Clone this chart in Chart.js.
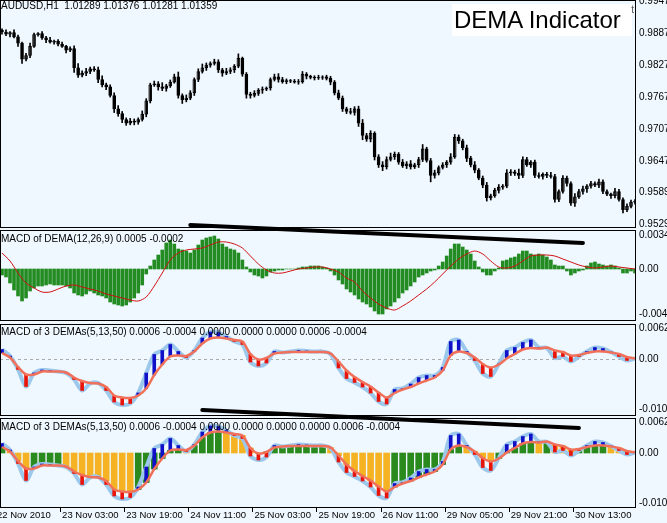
<!DOCTYPE html>
<html><head><meta charset="utf-8">
<script src="https://cdn.jsdelivr.net/npm/chart.js@4/dist/chart.umd.min.js"></script>
<style>
html,body{margin:0;padding:0;background:#F0F8FF;width:667px;height:523px;overflow:hidden;font-family:"Liberation Sans",sans-serif}
canvas{position:absolute;left:0}
.lbl{position:absolute;font-size:10px;color:#000;white-space:nowrap;z-index:5}
#title{position:absolute;left:452px;top:4px;width:178px;height:32px;background:#fff;font-size:24px;line-height:32px;padding-left:2px;z-index:6}
#title sup{font-size:10px;position:absolute;top:-10px;right:-2px;color:#555}
</style></head><body>
<canvas id="c1" width="667" height="229" style="top:0"></canvas>
<canvas id="c2" width="667" height="107" style="top:215px"></canvas>
<canvas id="c3" width="667" height="94" style="top:323px"></canvas>
<canvas id="c4" width="667" height="125" style="top:398px"></canvas>
<div class="lbl" style="left:1px;top:0px">AUDUSD,H1&nbsp; 1.01289 1.01376 1.01281 1.01359</div>
<div class="lbl" style="left:1px;top:233px">MACD of DEMA(12,26,9) 0.0005 -0.0002</div>
<div class="lbl" style="left:1px;top:326px">MACD of 3 DEMAs(5,13,50) 0.0006 -0.0004 0.0000 0.0000 0.0000 0.0006 -0.0004</div>
<div class="lbl" style="left:1px;top:421px">MACD of 3 DEMAs(5,13,50) 0.0006 -0.0004 0.0000 0.0000 0.0000 0.0000 0.0006 -0.0004</div>
<div id="title">DEMA Indicator<sup>t</sup></div>
<script>
const PIP = 0.0001;
const firstOpen = 0.9892;
const closes = [
0.9889,0.9885,0.9888,0.9880,0.9868,0.9838,0.9845,0.9862,0.9884,0.9886,
0.9878,0.9874,0.9870,0.9872,0.9866,0.9862,0.9855,0.9858,0.9822,0.9808,
0.9812,0.9815,0.9820,0.9818,0.9800,0.9790,0.9786,0.9770,0.9745,0.9736,
0.9725,0.9718,0.9722,0.9720,0.9725,0.9735,0.9760,0.9790,0.9792,0.9786,
0.9783,0.9788,0.9795,0.9805,0.9770,0.9762,0.9765,0.9775,0.9800,0.9815,
0.9822,0.9827,0.9830,0.9833,0.9818,0.9812,0.9815,0.9818,0.9825,0.9840,
0.9810,0.9772,0.9770,0.9774,0.9780,0.9782,0.9784,0.9800,0.9805,0.9800,
0.9796,0.9798,0.9797,0.9795,0.9796,0.9810,0.9806,0.9804,0.9803,0.9804,
0.9805,0.9802,0.9795,0.9775,0.9765,0.9745,0.9740,0.9738,0.9745,0.9718,
0.9695,0.9688,0.9699,0.9655,0.9640,0.9636,0.9650,0.9655,0.9660,0.9645,
0.9638,0.9642,0.9636,0.9640,0.9650,0.9670,0.9648,0.9620,0.9625,0.9635,
0.9640,0.9645,0.9655,0.9692,0.9685,0.9672,0.9652,0.9640,0.9630,0.9615,
0.9602,0.9578,0.9582,0.9592,0.9598,0.9600,0.9625,0.9627,0.9624,0.9620,
0.9650,0.9640,0.9645,0.9620,0.9618,0.9622,0.9620,0.9618,0.9575,0.9590,
0.9615,0.9605,0.9568,0.9580,0.9590,0.9595,0.9600,0.9605,0.9602,0.9608,
0.9590,0.9585,0.9582,0.9590,0.9575,0.9556,0.9562,0.9570,0.9572];
const wickHi = [
3,4,2,5,3,2,4,6,3,2, 4,3,5,2,3,4,2,3,5,8, 4,6,3,4,5,7,3,4,5,6, 4,3,5,4,3,6,4,3,5,4,
8,3,4,5,9,3,6,4,3,5, 7,4,3,5,4,3,6,4,3,8, 2,3,4,5,3,4,2,3,5,6, 4,3,2,3,4,5,3,2,3,4,
2,3,4,3,5,4,3,6,4,5, 7,4,5,3,4,6,5,7,4,3, 5,4,6,3,4,8,3,4,5,3, 4,3,6,5,4,3,5,4,6,3,
4,5,3,4,5,3,6,4,3,8, 5,4,3,4,5,3,4,6,4,3, 5,4,3,6,4,5,3,4,3,5, 4,3,2,6,4,3,5,4,3];
const wickLo = [
4,3,5,2,6,8,3,4,2,3, 3,5,2,4,3,2,5,3,9,4, 3,5,4,3,6,4,5,3,7,5, 6,4,3,5,4,3,5,4,3,6,
4,5,3,2,5,7,4,3,5,4, 3,5,4,3,5,6,3,4,5,3, 4,7,5,3,4,6,3,4,3,5, 3,4,3,2,4,3,5,3,4,3,
4,3,5,4,3,5,4,3,5,6, 8,4,5,6,5,7,4,3,5,4, 3,5,4,3,5,4,3,12,5,4, 3,5,4,3,5,4,6,4,5,3,
5,6,4,3,5,4,3,5,4,6, 4,3,5,4,3,5,4,3,5,4, 3,5,4,6,3,5,7,4,3,5, 4,3,5,4,3,6,4,3,4];
const priceTicks = [0.9947,0.9887,0.9827,0.9767,0.9707,0.9647,0.9589,0.9529];
const priceTickLabels = ["0.9947","0.9887","0.9827","0.9767","0.9707","0.9647","0.9589","0.9529"];

const macdHist = [
-6,-8,-14,-21,-27,-32,-29,-22,-19,-17, -17,-16,-15,-16,-16,-16,-17,-19,-24,-26,
-27,-25,-22,-24,-26,-27,-29,-33,-35,-36, -37,-36,-33,-29,-24,-16,-5,3,9,14,
19,26,29,25,20,19,18,16,19,24, 29,31,32,33,30,25,22,20,19,16,
9,2,-3,-6,-7,-9,-7,-3,-2,-1, -1,0,0,0,1,2,2,3,3,3,
2,1,-2,-6,-11,-15,-20,-23,-26,-30, -33,-35,-38,-42,-45,-45,-40,-37,-33,-29,
-24,-21,-17,-13,-8,-6,-4,-2,-1,3, 7,13,20,25,25,22,19,15,8,2,
-3,-6,-6,-2,1,8,9,11,12,15, 18,18,15,14,15,14,12,9,4,3,
3,-2,-6,-4,-2,-1,3,6,7,5, 4,3,4,3,1,-4,-4,-2,-4];
const macdSignal = [
16,8,-4,-14,-19,-23,-23,-20,-17,-16, -18,-20,-22,-25,-27,-29,-31,-32,-28,-17,
-4,9,16,19,20,21,24,27,27,25, 21,13,5,-1,-4,-4,-2,0,1,2,
2,0,-3,-9,-13,-22,-29,-35,-39,-41, -37,-32,-26,-20,-13,-5,3,10,15,18,
15,8,2,1,3,8,13,14,14,13, 10,7,4,2,1,2,3,2,1,0];
const p2Ticks = [0.0034,0,-0.0045];
const p2TickLabels = ["0.0034","0.00","-0.0045"];

const dema3Macd = [
19,6,-21,-55,-28,-22,-23,-25,-28,-41, -63,-49,-48,-63,-86,-92,-89,-68,-28,9,
17,29,15,3,17,42,54,53,45,35, 29,-6,-14,-8,15,13,15,17,16,15,
15,10,-18,-39,-47,-56,-68,-85,-90,-61, -59,-50,-37,-33,-33,-17,35,38,15,-3,
-29,-35,-10,17,23,33,38,23,22,2, 5,-5,5,15,23,21,14,5,-3,1];
const dema3Signal = [
12,3,-16,-31,-31,-25,-25,-25,-27,-37, -44,-48,-49,-56,-73,-77,-78,-73,-59,-32,
-11,5,7,6,15,31,41,43,41,38, 35,10,-1,2,11,13,14,14,14,14,
14,11,-5,-23,-36,-46,-55,-67,-77,-68, -61,-56,-49,-43,-37,-23,7,15,12,3,
-10,-17,-11,1,10,19,22,21,23,17, 14,7,8,12,15,15,13,10,4,1];
const p34Ticks = [0.0062,0,-0.0101];
const p34TickLabels = ["0.0062","0.00","-0.0101"];

const trend1Bars = [47,145], trend1Vals = [0.0044,0.0026];
const trend2Bars = [50,144], trend2Vals = [0.0086,0.0050];

const dateBars = [-1.75,14.5,30.5,46.5,62.5,78.5,94.5,110.5,126.5,142.5];
const dateLabels = ["22 Nov 2010","23 Nov 03:00","23 Nov 19:00","24 Nov 11:00","25 Nov 03:00","25 Nov 19:00","26 Nov 11:00","29 Nov 05:00","29 Nov 21:00","30 Nov 13:00"];

const X_MIN=-0.5, X_MAX=158.25;
const border = {id:'border', afterDatasetsDraw(c){const a=c.chartArea,x=c.ctx;x.save();x.strokeStyle='#000';x.lineWidth=1;x.strokeRect(a.left+0.5,a.top+0.5,a.right-a.left-1,a.bottom-a.top-1);x.restore();}};
function trendPlugin(bars,vals){return {id:'trend',afterDatasetsDraw(c){const xs=c.scales.x,ys=c.scales.y,x=c.ctx;x.save();x.strokeStyle='#000';x.lineWidth=4;x.lineCap='round';x.beginPath();x.moveTo(xs.getPixelForValue(bars[0]),ys.getPixelForValue(vals[0]));x.lineTo(xs.getPixelForValue(bars[1]),ys.getPixelForValue(vals[1]));x.stroke();x.restore();}};}
const zeroDash = {id:'zd',beforeDatasetsDraw(c){const a=c.chartArea,y=Math.round(c.scales.y.getPixelForValue(0))+0.5,x=c.ctx;x.save();x.strokeStyle='#aaa';x.setLineDash([3,3]);x.beginPath();x.moveTo(a.left,y);x.lineTo(a.right,y);x.stroke();x.restore();}};
const dates = {id:'dates',afterDraw(c){const xs=c.scales.x,x=c.ctx,b=c.chartArea.bottom;x.save();x.fillStyle='#000';x.font='9.5px "Liberation Sans"';x.textBaseline='top';x.strokeStyle='#000';
  dateBars.forEach((v,i)=>{const px=xs.getPixelForValue(v);x.fillText(dateLabels[i],px+2,b+3);x.beginPath();x.moveTo(Math.round(px)+0.5,b);x.lineTo(Math.round(px)+0.5,b+4);x.stroke();});x.restore();}};

function opts(yMin,yMax,ticks,labels,pt,pb){return {responsive:false,animation:false,devicePixelRatio:1,
 layout:{autoPadding:false,padding:{top:pt,bottom:pb,left:0,right:0}},
 plugins:{legend:{display:false},tooltip:{enabled:false}},
 scales:{x:{type:'linear',min:X_MIN,max:X_MAX,display:false,offset:false},
  y:{position:'right',min:yMin,max:yMax,grid:{display:false,drawTicks:false},border:{display:false},
   afterFit:s=>{s.width=31;s.paddingTop=0;s.paddingBottom=0;},afterBuildTicks:s=>{s.ticks=ticks.map(v=>({value:v}));},
   ticks:{padding:3,color:'#000',font:{family:'Liberation Sans',size:10,lineHeight:0.1},callback:(v,i)=>labels[i]}}}};}

const opens = closes.map((c,i)=> i===0?firstOpen:closes[i-1]);
const bodies = closes.map((c,i)=>({x:i,y:[opens[i],c]}));
const wicks = closes.map((c,i)=>({x:i,y:[Math.min(opens[i],c)-wickLo[i]*PIP, Math.max(opens[i],c)+wickHi[i]*PIP]}));
const bull = closes.map((c,i)=>c>=opens[i]);
new Chart(document.getElementById('c1'),{type:'bar',data:{datasets:[
 {data:wicks,backgroundColor:'#000',barThickness:1,grouped:false},
 {data:bodies,backgroundColor:bull.map(b=>b?'#fff':'#000'),borderColor:'#000',borderWidth:1,borderSkipped:false,barThickness:3,grouped:false}
]},options:opts(0.95215,0.9949,priceTicks,priceTickLabels,0,1),plugins:[border]});

new Chart(document.getElementById('c2'),{type:'bar',data:{datasets:[
 {type:'line',data:macdSignal.map((v,k)=>({x:2*k,y:v*PIP})),borderColor:'#D01010',borderWidth:1,pointRadius:0,tension:0.3},
 {data:macdHist.map((v,i)=>({x:i,y:v*PIP})),backgroundColor:'#228B22',barThickness:3,grouped:false}
]},options:opts(-0.0052,0.0039,p2Ticks,p2TickLabels,15,1),plugins:[border,trendPlugin(trend1Bars,trend1Vals)]});

function demaSets(withHist){
 const hatch = dema3Macd.map((v,k)=>({x:2*k,y:[dema3Signal[k]*PIP,v*PIP]}));
 const hatchCol = dema3Macd.map((v,k)=> v>=dema3Signal[k] ? '#1010C8' : '#E8140A');
 const s=[
  {type:'line',data:dema3Macd.map((v,k)=>({x:2*k,y:v*PIP})),borderColor:'#9CC8EC',borderWidth:4,pointRadius:0,tension:0.3,order:3},
  {data:hatch,backgroundColor:hatchCol,barThickness:3,grouped:false,order:2},
  {type:'line',data:dema3Signal.map((v,k)=>({x:2*k,y:v*PIP})),borderColor:'#F0705A',borderWidth:2.5,pointRadius:0,tension:0.3,order:1}
 ];
 if(withHist){
  const col = dema3Signal.map((v,k)=> (k>0 && v<dema3Signal[k-1]) ? '#F5B323' : '#2A8A1E');
  s.push({data:dema3Signal.map((v,k)=>({x:2*k,y:v*PIP})),backgroundColor:col,barThickness:6,grouped:false,order:4});
 }
 return s;
}
new Chart(document.getElementById('c3'),{type:'bar',data:{datasets:demaSets(false)},options:opts(-0.0114,0.0070,p34Ticks,p34TickLabels,1,1),plugins:[zeroDash,border]});
new Chart(document.getElementById('c4'),{type:'bar',data:{datasets:demaSets(true)},options:opts(-0.0110,0.0070,p34Ticks,p34TickLabels,20,15),plugins:[border,trendPlugin(trend2Bars,trend2Vals),dates]});
</script></body></html>
